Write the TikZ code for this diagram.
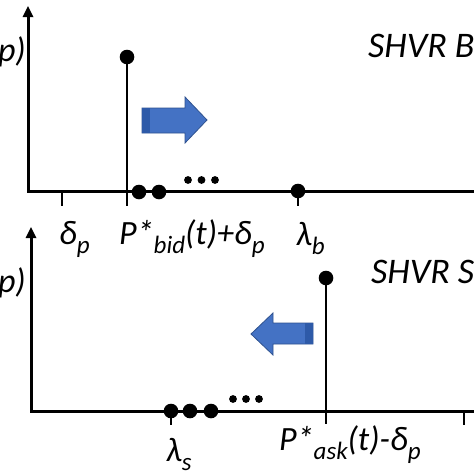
\documentclass[tikz,border=0pt]{standalone}
\usepackage{fontspec}
\setmainfont{Carlito}
\newcommand{\lowsub}[1]{\raisebox{-0.28em}{\fontsize{25}{25}\selectfont #1}}
\definecolor{arrowblue}{HTML}{4472C4}
\definecolor{arrowedge}{HTML}{2F528F}
\definecolor{arrowdark}{HTML}{2E5AA8}
\tikzset{
  axisline/.style={line width=3pt},
  tickline/.style={line width=2.4pt},
  stemline/.style={line width=2pt},
  bigdot/.style={fill=black},
  lbl/.style={inner sep=0pt, font=\fontsize{34}{34}\selectfont\itshape},
  title/.style={inner sep=0pt, font=\fontsize{36}{36}\selectfont\itshape},
  bluearrow/.style={fill=arrowblue, draw=arrowedge, line width=0.8pt, line join=miter},
}
\begin{document}
\begin{tikzpicture}[x=1pt,y=-1pt]
\useasboundingbox (0,0) rectangle (474,474);
\clip (0,0) rectangle (474,474);
\fill[white] (0,0) rectangle (474,474);

% ---------- top panel ----------
\coordinate (o1) at (28,191);
\coordinate (y1) at (28,16);
\coordinate (x1) at (476,191);
\draw[axisline] (y1) -- (o1) -- (x1);
\fill (22.5,17) -- (28,6) -- (33.5,17) -- cycle;
% ticks
\coordinate (t1a) at (62,191); \coordinate (t1b) at (62,206);
\draw[tickline] (t1a) -- (t1b);
\coordinate (s1top) at (127,57); \coordinate (s1bot) at (127,206);
\draw[stemline] (s1top) -- (s1bot);
\fill[bigdot] (s1top) circle (7.3);
\fill[bigdot] (139,192) circle (7.3);
\fill[bigdot] (159,192) circle (7.3);
\fill (188,180) circle (3.9);
\fill (201.5,180) circle (3.9);
\fill (215,180) circle (3.9);
\coordinate (lb) at (298,191); \coordinate (lbt) at (298,206);
\draw[tickline] (lb) -- (lbt);
\fill[bigdot] (lb) circle (7.3);
% right arrow
\draw[bluearrow] (142,108) -- (185,108) -- (185,97) -- (207,120) -- (185,143) -- (185,133) -- (142,133) -- cycle;
\fill[arrowdark] (142.4,108.4) rectangle (150,132.6);
% labels
\node[lbl, anchor=base east] (fp1) at (26,61) {(p)};
\node[lbl, anchor=base west] (dp1) at (59,244) {δ\lowsub{p}};
\node[lbl, anchor=base west] (pb) at (119,244) {P*\lowsub{bid}(t)+δ\lowsub{p}};
\node[lbl, anchor=base west] (lbl1) at (296,245) {λ\lowsub{b}};
\node[title, anchor=base west] (buy) at (368,57) {SHVR Bid};

% ---------- bottom panel ----------
\coordinate (o2) at (31,411);
\coordinate (y2) at (31,236);
\coordinate (x2) at (476,411);
\draw[axisline] (y2) -- (o2) -- (x2);
\fill (25.5,238) -- (31,227) -- (36.5,238) -- cycle;
\coordinate (ls) at (171,411); \coordinate (lst) at (171,425);
\draw[tickline] (ls) -- (lst);
\fill[bigdot] (ls) circle (7.3);
\fill[bigdot] (190,411) circle (7.3);
\fill[bigdot] (211,411) circle (7.3);
\fill (233,399) circle (3.9);
\fill (246,399) circle (3.9);
\fill (259,399) circle (3.9);
\coordinate (s2top) at (326,278); \coordinate (s2bot) at (326,424);
\draw[stemline] (s2top) -- (s2bot);
\fill[bigdot] (s2top) circle (7.3);
\coordinate (t2a) at (464,411); \coordinate (t2b) at (464,425);
\draw[tickline] (t2a) -- (t2b);
% left arrow
\draw[bluearrow] (313,323) -- (273,323) -- (273,313) -- (251,334) -- (273,355) -- (273,344) -- (313,344) -- cycle;
\fill[arrowdark] (305,323.4) rectangle (312.6,343.6);
% labels
\node[lbl, anchor=base east] (fp2) at (26,292) {(p)};
\node[lbl, anchor=base west] (lsl) at (166,461) {λ\lowsub{s}};
\node[lbl, anchor=base west] (pa) at (279,450) {P*\lowsub{ask}(t)-δ\lowsub{p}};
\node[title, anchor=base west] (sell) at (371,283) {SHVR Sell};
\end{tikzpicture}
\end{document}
